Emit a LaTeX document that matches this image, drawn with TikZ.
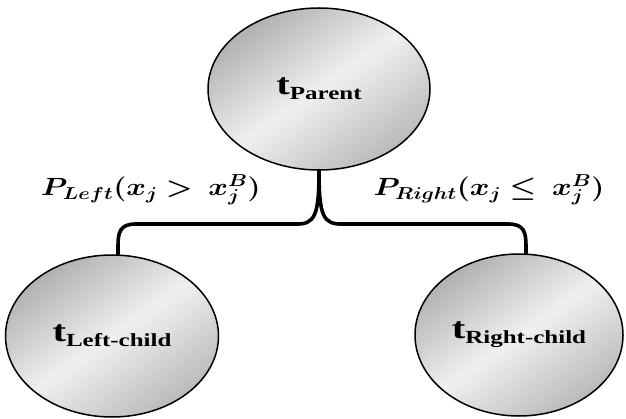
\documentclass[tikz,border=0pt]{standalone}
\usepackage{fontspec}
\setmainfont{Liberation Serif}
\usepackage{bm}
\usetikzlibrary{shapes.geometric,calc}
\begin{document}
\begin{tikzpicture}[x=1pt,y=-1pt,
  ball/.style={ellipse,draw=black,line width=1.5pt,inner sep=0pt,
    shading=axis,left color=gray!62,right color=gray!55,middle color=gray!12,shading angle=35},
  conn/.style={line width=3.6pt,line cap=round},
  lbl/.style={inner sep=0pt,font=\fontsize{25}{28}\selectfont}]
\useasboundingbox (0,0) rectangle (626,419);
\newcommand{\tlab}[1]{\scalebox{1.35}[1]{\bfseries{\fontsize{30}{30}\selectfont t}\raisebox{-5pt}{\fontsize{18.5}{18.5}\selectfont #1}}}
\node[ball,minimum width=222pt,minimum height=162pt] (p) at (319,89) {\tlab{Parent}};
\node[ball,minimum width=213pt,minimum height=162pt] (l) at (112,336) {\tlab{Left-child}};
\node[ball,minimum width=208pt,minimum height=162pt] (r) at (519,335) {\tlab{Right-child}};
\coordinate (lk) at (118,224);
\coordinate (rk) at (526,224);
\draw[conn] (p.south) .. controls ($(p.south)+(0,45)$) and ($(p.south)+(-4,54)$) .. ($(p.south |- lk)+(-24,0)$)
  -- ($(lk)+(18,0)$) .. controls ($(lk)+(2,0)$) and ($(lk)+(0,8)$) .. ($(lk)+(0,22)$) -- (lk |- l.north);
\draw[conn] (p.south) .. controls ($(p.south)+(0,45)$) and ($(p.south)+(4,54)$) .. ($(p.south |- rk)+(24,0)$)
  -- ($(rk)+(-18,0)$) .. controls ($(rk)+(-2,0)$) and ($(rk)+(0,8)$) .. ($(rk)+(0,22)$) -- (rk |- r.north);
\node[lbl] (ll) at (151,190) {\scalebox{1.2}[1]{$\bm{P_{Left}(x_j >\ x_j^B)}$}};
\node[lbl] (rl) at (489,190) {\scalebox{1.2}[1]{$\bm{P_{Right}(x_j \leq\ x_j^B)}$}};
\end{tikzpicture}
\end{document}
